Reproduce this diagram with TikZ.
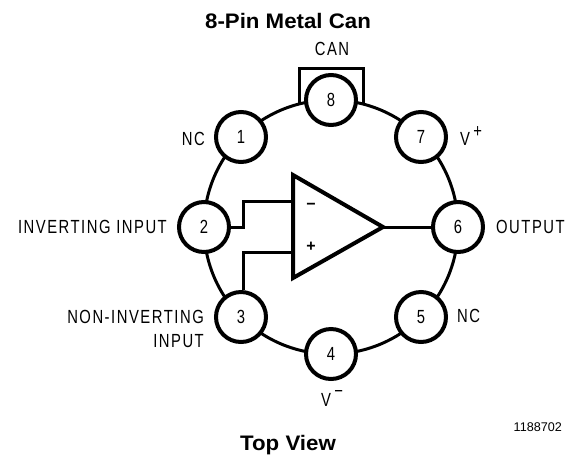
\documentclass[tikz,border=0pt]{standalone}
\usepackage{fontspec}
\usetikzlibrary{backgrounds}
\setmainfont{Liberation Sans}
\newfontfamily\lblfont[LetterSpace=8,FakeStretch=0.78]{Liberation Sans}
\newfontfamily\ttlfont[FakeStretch=1.06]{Liberation Sans Bold}
\begin{document}
\begin{tikzpicture}[x=1pt,y=-1pt,
  pin/.style={circle,draw,line width=4pt,minimum size=50pt,inner sep=0pt,fill=white,font=\lblfont\fontsize{19}{19}\selectfont},
  wire/.style={line width=3pt,line join=miter},
  arcw/.style={line width=3pt,bend left=22.5,looseness=0.887},
  lbl/.style={inner sep=0pt,font=\lblfont\fontsize{19}{24}\selectfont},
  ttl/.style={inner sep=0pt,font=\ttlfont\fontsize{21}{21}\selectfont}]
\useasboundingbox (0,0) rectangle (567,456);
\coordinate (bl) at (299,103);
\coordinate (tl) at (299,68);
\coordinate (tr) at (363,68);
\coordinate (br) at (363,103);
\draw[wire] (bl) -- (tl) -- (tr) -- (br);
\node[pin] (p8) at (331,100) {8};
\node[pin] (p1) at (241,137) {1};
\node[pin] (p7) at (421,137) {7};
\node[pin] (p2) at (204,227) {2};
\node[pin] (p6) at (458,227) {6};
\node[pin] (p3) at (241,317) {3};
\node[pin] (p5) at (421,317) {5};
\node[pin] (p4) at (331,354) {4};
\begin{pgfonlayer}{background}
\draw[arcw] (p8.center) to (p7.center);
\draw[arcw] (p7.center) to (p6.center);
\draw[arcw] (p6.center) to (p5.center);
\draw[arcw] (p5.center) to (p4.center);
\draw[arcw] (p4.center) to (p3.center);
\draw[arcw] (p3.center) to (p2.center);
\draw[arcw] (p2.center) to (p1.center);
\draw[arcw] (p1.center) to (p8.center);
\end{pgfonlayer}
\coordinate (ta) at (293,175);
\coordinate (tb) at (293,278);
\coordinate (tc) at (383,227);
\coordinate (im) at (293,201);
\coordinate (ip) at (293,252);
\coordinate (km) at (243,201);
\coordinate (kp) at (243,252);
\draw[wire] (p2.east) -- (p2.east -| km) -- (km) -- (im);
\draw[wire] (p3.north -| kp) -- (kp) -- (ip);
\draw[wire] (tc) -- (p6);
\draw[line width=4pt,line join=miter,fill=white] (ta) -- (tc) -- (tb) -- cycle;
\node[inner sep=0pt,font=\bfseries\fontsize{16}{16}\selectfont] (mi) at (311,206) {\textminus};
\node[inner sep=0pt,font=\bfseries\fontsize{16}{16}\selectfont] (pl) at (311,247) {+};
\node[ttl] (t1) at (288,21) {8-Pin Metal Can};
\node[ttl] (t2) at (288,445) {Top View};
\node[lbl] (can) at (332,49) {CAN};
\node[lbl,anchor=east] (nc1) at (205,139) {NC};
\node[lbl,anchor=base west] (vp) at (460,145) {V\,\raisebox{8pt}{+}};
\node[lbl,anchor=east] (inv) at (167,227) {INVERTING INPUT};
\node[lbl,anchor=west] (out) at (496,227) {OUTPUT};
\node[lbl,anchor=east,align=right] (non) at (204,329) {NON-INVERTING\\INPUT};
\node[lbl,anchor=west] (nc5) at (457,316) {NC};
\node[lbl,anchor=base west] (vm) at (321,406) {V\,\raisebox{9pt}{\textminus}};
\node[inner sep=0pt,anchor=east,font=\fontsize{12.6}{12.6}\selectfont] (id) at (562,427) {1188702};
\end{tikzpicture}
\end{document}
